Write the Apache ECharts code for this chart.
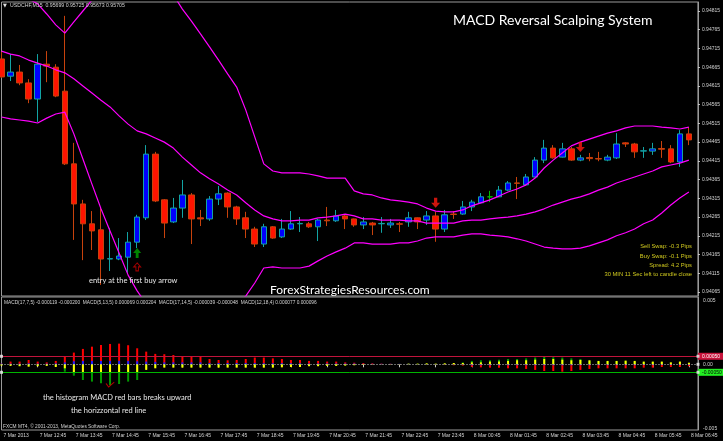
<!DOCTYPE html>
<html><head><meta charset="utf-8">
<script src="https://cdn.jsdelivr.net/npm/echarts@6/dist/echarts.min.js"></script>
<style>html,body{margin:0;padding:0;background:#000;}#c{width:723px;height:441px;}</style>
</head><body><div id="c"></div>
<script>
const times = ["7 Mar 11:45","7 Mar 12:00","7 Mar 12:15","7 Mar 12:30","7 Mar 12:45","7 Mar 13:00","7 Mar 13:15","7 Mar 13:30","7 Mar 13:45","7 Mar 14:00",
"7 Mar 14:15","7 Mar 14:30","7 Mar 14:45","7 Mar 15:00","7 Mar 15:15","7 Mar 15:30","7 Mar 15:45","7 Mar 16:00","7 Mar 16:15","7 Mar 16:30",
"7 Mar 16:45","7 Mar 17:00","7 Mar 17:15","7 Mar 17:30","7 Mar 17:45","7 Mar 18:00","7 Mar 18:15","7 Mar 18:30","7 Mar 18:45","7 Mar 19:00",
"7 Mar 19:15","7 Mar 19:30","7 Mar 19:45","7 Mar 20:00","7 Mar 20:15","7 Mar 20:30","7 Mar 20:45","7 Mar 21:00","7 Mar 21:15","7 Mar 21:30",
"7 Mar 21:45","7 Mar 22:00","7 Mar 22:15","7 Mar 22:30","7 Mar 22:45","7 Mar 23:00","7 Mar 23:15","7 Mar 23:30","7 Mar 23:45","8 Mar 00:00",
"8 Mar 00:15","8 Mar 00:30","8 Mar 00:45","8 Mar 01:00","8 Mar 01:15","8 Mar 01:30","8 Mar 01:45","8 Mar 02:00","8 Mar 02:15","8 Mar 02:30",
"8 Mar 02:45","8 Mar 03:00","8 Mar 03:15","8 Mar 03:30","8 Mar 03:45","8 Mar 04:00","8 Mar 04:15","8 Mar 04:30","8 Mar 04:45","8 Mar 05:00",
"8 Mar 05:15","8 Mar 05:30","8 Mar 05:45","8 Mar 06:00","8 Mar 06:15","8 Mar 06:30","8 Mar 06:45","8 Mar 07:00"];
const timeTickLabels = ["7 Mar 2013","7 Mar 12:45","7 Mar 13:45","7 Mar 14:45","7 Mar 15:45","7 Mar 16:45","7 Mar 17:45","7 Mar 18:45","7 Mar 19:45","7 Mar 20:45",
"7 Mar 21:45","7 Mar 22:45","7 Mar 23:45","8 Mar 00:45","8 Mar 01:45","8 Mar 02:45","8 Mar 03:45","8 Mar 04:45","8 Mar 05:45","8 Mar 06:45"];

const opens = [0.94687,0.94641,0.94652,0.94623,0.94580,0.94673,0.94665,0.94601,0.94407,0.94300,
0.94247,0.94231,0.94153,0.94153,0.94158,0.94198,0.94263,0.94433,0.94311,0.94252,
0.94289,0.94324,0.94263,0.94260,0.94313,0.94329,0.94292,0.94263,0.94233,0.94193,
0.94239,0.94212,0.94233,0.94247,0.94247,0.94239,0.94257,0.94255,0.94268,0.94260,
0.94244,0.94249,0.94247,0.94244,0.94247,0.94252,0.94263,0.94257,0.94268,0.94233,
0.94273,0.94273,0.94292,0.94303,0.94319,0.94319,0.94337,0.94356,0.94351,0.94372,
0.94417,0.94449,0.94425,0.94447,0.94417,0.94424,0.94421,0.94417,0.94423,0.94463,
0.94460,0.94441,0.94441,0.94448,0.94447,0.94412,0.94487];
const closes = [0.94639,0.94652,0.94623,0.94580,0.94673,0.94668,0.94588,0.94407,0.94300,0.94247,
0.94228,0.94153,0.94154,0.94161,0.94198,0.94265,0.94433,0.94308,0.94249,0.94289,
0.94324,0.94260,0.94260,0.94313,0.94327,0.94292,0.94260,0.94233,0.94193,0.94239,
0.94209,0.94233,0.94247,0.94248,0.94239,0.94257,0.94255,0.94268,0.94260,0.94244,
0.94252,0.94244,0.94248,0.94249,0.94246,0.94263,0.94252,0.94268,0.94233,0.94271,
0.94272,0.94292,0.94305,0.94319,0.94319,0.94337,0.94356,0.94355,0.94372,0.94417,
0.94449,0.94423,0.94447,0.94417,0.94423,0.94421,0.94420,0.94425,0.94460,0.94460,
0.94439,0.94442,0.94447,0.94446,0.94412,0.94487,0.94471];
const lows = [0.94636,0.94628,0.94617,0.94569,0.94519,0.94625,0.94585,0.94404,0.94204,0.94150,
0.94177,0.94084,0.94121,0.94150,0.94116,0.94182,0.94257,0.94305,0.94209,0.94249,
0.94263,0.94193,0.94241,0.94255,0.94297,0.94263,0.94244,0.94209,0.94185,0.94185,
0.94207,0.94209,0.94231,0.94225,0.94236,0.94201,0.94241,0.94252,0.94233,0.94239,
0.94233,0.94217,0.94223,0.94236,0.94225,0.94239,0.94233,0.94244,0.94199,0.94225,
0.94260,0.94271,0.94281,0.94302,0.94305,0.94318,0.94335,0.94313,0.94348,0.94371,
0.94409,0.94421,0.94424,0.94415,0.94414,0.94414,0.94414,0.94414,0.94420,0.94452,
0.94423,0.94423,0.94431,0.94423,0.94409,0.94399,0.94457];
const highs = [0.94706,0.94700,0.94671,0.94633,0.94700,0.94708,0.94673,0.94802,0.94463,0.94311,
0.94281,0.94289,0.94236,0.94209,0.94225,0.94271,0.94457,0.94439,0.94313,0.94316,
0.94364,0.94329,0.94284,0.94321,0.94348,0.94331,0.94295,0.94279,0.94239,0.94247,
0.94241,0.94260,0.94281,0.94265,0.94252,0.94260,0.94292,0.94284,0.94271,0.94261,
0.94265,0.94252,0.94265,0.94260,0.94252,0.94279,0.94264,0.94281,0.94279,0.94284,
0.94281,0.94308,0.94311,0.94329,0.94335,0.94348,0.94361,0.94372,0.94380,0.94425,
0.94471,0.94457,0.94463,0.94452,0.94431,0.94436,0.94439,0.94431,0.94489,0.94465,
0.94463,0.94452,0.94463,0.94468,0.94457,0.94497,0.94505];

const bbUpper = [0.94884,0.94874,0.94866,0.94847,0.94834,0.94807,0.94778,0.94756,0.94786,0.94815,
0.94844,0.94871,0.94892,0.94908,0.94924,0.94922,0.94940,0.94924,0.94892,0.94858,
0.94820,0.94788,0.94754,0.94719,0.94684,0.94647,0.94612,0.94551,0.94479,0.94407,
0.94388,0.94383,0.94383,0.94383,0.94380,0.94375,0.94369,0.94369,0.94369,0.94335,
0.94327,0.94324,0.94316,0.94311,0.94308,0.94305,0.94300,0.94289,0.94281,0.94279,
0.94279,0.94284,0.94295,0.94303,0.94311,0.94321,0.94332,0.94340,0.94351,0.94369,
0.94396,0.94417,0.94436,0.94455,0.94465,0.94473,0.94481,0.94489,0.94495,0.94503,
0.94508,0.94508,0.94508,0.94505,0.94503,0.94500,0.94505];
const bbMiddle = [0.94708,0.94700,0.94695,0.94684,0.94676,0.94668,0.94658,0.94650,0.94634,0.94615,
0.94596,0.94577,0.94559,0.94535,0.94513,0.94495,0.94487,0.94476,0.94465,0.94449,
0.94425,0.94404,0.94383,0.94367,0.94353,0.94337,0.94324,0.94303,0.94284,0.94268,
0.94260,0.94255,0.94255,0.94257,0.94257,0.94263,0.94265,0.94268,0.94273,0.94268,
0.94260,0.94260,0.94257,0.94257,0.94257,0.94255,0.94255,0.94249,0.94249,0.94249,
0.94249,0.94255,0.94257,0.94257,0.94260,0.94263,0.94265,0.94268,0.94273,0.94279,
0.94287,0.94297,0.94305,0.94313,0.94319,0.94327,0.94337,0.94345,0.94356,0.94364,
0.94372,0.94380,0.94388,0.94399,0.94404,0.94409,0.94417];
const bbLower = [0.94532,0.94527,0.94524,0.94521,0.94516,0.94529,0.94540,0.94545,0.94487,0.94420,
0.94353,0.94287,0.94228,0.94169,0.94110,0.94068,0.94033,0.94028,0.94038,0.94041,
0.94030,0.94020,0.94012,0.94014,0.94022,0.94028,0.94036,0.94054,0.94089,0.94129,
0.94132,0.94129,0.94129,0.94129,0.94134,0.94148,0.94161,0.94172,0.94182,0.94196,
0.94196,0.94193,0.94193,0.94193,0.94196,0.94196,0.94201,0.94209,0.94212,0.94212,
0.94212,0.94217,0.94220,0.94220,0.94217,0.94215,0.94212,0.94207,0.94201,0.94193,
0.94185,0.94182,0.94180,0.94180,0.94182,0.94188,0.94196,0.94204,0.94215,0.94223,
0.94233,0.94247,0.94257,0.94276,0.94297,0.94316,0.94332];

const macdRed = [0.00004,0.00017,0.00017,0.00027,0.00017,0.00012,0.00021,0.00048,0.00073,0.00096,
0.00110,0.00121,0.00127,0.00129,0.00119,0.00100,0.00079,0.00065,0.00063,0.00058,
0.00048,0.00048,0.00048,0.00033,0.00027,0.00025,0.00027,0.00033,0.00042,0.00042,
0.00037,0.00033,0.00027,0.00027,0.00021,0.00021,0.00017,0.00017,0.00012,0.00010,
0.00008,0.00006,0.00004,0.00003,0.00002,0.00001,-0.00001,-0.00002,-0.00002,-0.00004,
-0.00006,-0.00008,-0.00017,-0.00019,-0.00021,-0.00021,-0.00025,-0.00025,-0.00029,-0.00035,
-0.00042,-0.00042,-0.00046,-0.00042,-0.00035,-0.00029,-0.00025,-0.00025,-0.00025,-0.00025,
-0.00025,-0.00021,-0.00021,-0.00017,-0.00017,-0.00017,-0.00012];
const macdGreen = [-0.00005,-0.00006,-0.00008,-0.00010,-0.00008,-0.00006,-0.00012,-0.00046,-0.00071,-0.00098,
-0.00108,-0.00119,-0.00129,-0.00123,-0.00108,-0.00098,-0.00030,-0.00020,-0.00016,-0.00016,
-0.00016,-0.00016,-0.00016,-0.00016,-0.00016,-0.00016,-0.00016,-0.00016,-0.00016,-0.00016,
-0.00016,-0.00014,-0.00014,-0.00014,-0.00010,-0.00010,-0.00008,-0.00008,-0.00006,-0.00004,
-0.00002,0.00000,0.00001,0.00001,0.00002,0.00003,0.00003,0.00004,0.00003,0.00005,
0.00007,0.00012,0.00021,0.00025,0.00025,0.00029,0.00033,0.00033,0.00037,0.00042,
0.00048,0.00044,0.00042,0.00037,0.00033,0.00022,0.00019,0.00019,0.00019,0.00020,
0.00018,0.00015,0.00015,0.00015,0.00010,0.00015,0.00008];
const macdBlue = [0.00004,0.00004,0.00004,0.00006,0.00004,0.00004,0.00006,0.00012,0.00019,0.00021,
0.00021,0.00021,0.00021,0.00021,0.00021,0.00019,0.00017,0.00015,0.00012,0.00012,
0.00012,0.00012,0.00012,0.00008,0.00008,0.00008,0.00008,0.00008,0.00008,0.00007,
0.00007,0.00007,0.00007,0.00007,0.00005,0.00005,0.00005,0.00005,0.00005,0.00005,
0.00003,0.00003,0.00003,0.00003,0.00003,0.00003,0.00001,0.00001,0.00001,0.00001,
0.00001,-0.00002,-0.00006,-0.00006,-0.00006,-0.00006,-0.00006,-0.00006,-0.00006,-0.00006,
-0.00006,-0.00006,-0.00006,-0.00006,-0.00005,-0.00005,-0.00005,-0.00005,-0.00005,-0.00005,
-0.00005,-0.00004,-0.00004,-0.00004,-0.00004,-0.00004,-0.00004];
const macdYellow = [-0.00008,-0.00010,-0.00012,-0.00015,-0.00012,-0.00010,-0.00017,-0.00025,-0.00050,-0.00050,
-0.00050,-0.00050,-0.00050,-0.00050,-0.00050,-0.00050,-0.00035,-0.00025,-0.00021,-0.00021,
-0.00021,-0.00021,-0.00021,-0.00021,-0.00021,-0.00021,-0.00021,-0.00021,-0.00021,-0.00021,
-0.00021,-0.00019,-0.00017,-0.00017,-0.00012,-0.00012,-0.00010,-0.00010,-0.00008,-0.00006,
-0.00004,-0.00002,0.00001,0.00002,0.00002,0.00004,0.00004,0.00006,0.00004,0.00006,
0.00008,0.00008,0.00012,0.00012,0.00017,0.00017,0.00021,0.00025,0.00025,0.00029,
0.00033,0.00033,0.00029,0.00025,0.00027,0.00025,0.00021,0.00021,0.00021,0.00023,
0.00021,0.00017,0.00017,0.00017,0.00012,0.00017,0.00010];

const priceTicks = [0.94065,0.94115,0.94165,0.94215,0.94265,0.94315,0.94365,0.94415,0.94465,0.94515,0.94565,0.94615,0.94665,0.94715,0.94765,0.94815];
const macdTicks = [-0.004, 0, 0.004];
const macdTickLabels = ['-0.005', '0.00', '0.005'];
const macdLevels = [0.0005, -0.0005];
const macdLevelLabels = ['0.00050', '-0.00050'];

const buyArrows = [[15, 0.94169]];
const buyOutlineArrows = [[15, 0.94132]];
const sellArrows = [[48, 0.94303], [64, 0.94452]];
const macdCheck = [[12, -0.00128]];

const UP = 'path://M5,0L10,5.5L6.8,5.5L6.8,11L3.2,11L3.2,5.5L0,5.5Z';
const DOWN = 'path://M3.2,0L6.8,0L6.8,5.5L10,5.5L5,11L0,5.5L3.2,5.5Z';
const CHECK = 'path://M0,2L1.2,1.4L3,4.4L8.4,0L9,0.8L3,6Z';

const small = '#d4d4d4';
const chart = echarts.init(document.getElementById('c'), null, {renderer: 'canvas', width: 723, height: 441});
const GL = 1.5, GR = 25;
const option = {
  backgroundColor: '#000',
  animation: false,
  grid: [
    {left: GL, right: GR, top: 2, height: 294, show: true, borderColor: '#9a9a9a', borderWidth: 1, backgroundColor: '#000'},
    {left: GL, right: GR, top: 297, height: 133, show: true, borderColor: '#9a9a9a', borderWidth: 1, backgroundColor: '#000'}
  ],
  xAxis: [
    {type: 'category', gridIndex: 0, data: times, boundaryGap: false,
     axisLine: {show: false}, axisTick: {show: false}, axisLabel: {show: false}, splitLine: {show: false}},
    {type: 'category', gridIndex: 1, data: times, boundaryGap: false,
     axisLine: {show: false},
     axisTick: {show: true, interval: 3, length: 3, lineStyle: {color: '#c8c8c8'}},
     axisLabel: {interval: 3, color: small, fontSize: 5, fontFamily: 'Liberation Sans', align: 'left', margin: 3, padding: [0, 0, 0, 2],
       formatter: (v, i) => timeTickLabels[Math.round(i / 4)] || ''},
     splitLine: {show: false}}
  ],
  yAxis: [
    {type: 'value', gridIndex: 0, position: 'right', min: 0.940543, max: 0.94839,
     axisLine: {show: true, lineStyle: {color: '#9a9a9a'}},
     axisTick: {show: true, length: 2, customValues: priceTicks, lineStyle: {color: '#c8c8c8'}},
     axisLabel: {customValues: priceTicks, formatter: v => v.toFixed(5), color: small, fontSize: 5, fontFamily: 'Liberation Sans', margin: 4},
     splitLine: {show: false}},
    {type: 'value', gridIndex: 1, position: 'right', min: -0.0041, max: 0.0042,
     axisLine: {show: true, lineStyle: {color: '#9a9a9a'}},
     axisTick: {show: false},
     axisLabel: {customValues: macdTicks, color: small, fontSize: 5, fontFamily: 'Liberation Sans', margin: 5,
       formatter: v => { const k = macdTicks.findIndex(t => Math.abs(t - v) < 1e-9); return k >= 0 ? macdTickLabels[k] : ''; }},
     splitLine: {show: false}}
  ],
  series: [
    {type: 'candlestick', xAxisIndex: 0, yAxisIndex: 0, barWidth: 6,
     data: opens.map((o, i) => [o, closes[i], lows[i], highs[i]]),
     itemStyle: {color: '#0000ff', color0: '#ff1400', borderColor: '#12a4a4', borderColor0: '#c8420c', borderColorDoji: '#00c000', borderWidth: 1}},
    {type: 'line', xAxisIndex: 0, yAxisIndex: 0, data: bbUpper, symbol: 'none', lineStyle: {color: '#ff00ff', width: 1.2}},
    {type: 'line', xAxisIndex: 0, yAxisIndex: 0, data: bbMiddle, symbol: 'none', lineStyle: {color: '#ff00ff', width: 1.2}},
    {type: 'line', xAxisIndex: 0, yAxisIndex: 0, data: bbLower, symbol: 'none', lineStyle: {color: '#ff00ff', width: 1.2}},
    {type: 'scatter', xAxisIndex: 0, yAxisIndex: 0, data: buyArrows, symbol: UP, symbolSize: [8, 10], itemStyle: {color: '#00a400'}, z: 5},
    {type: 'scatter', xAxisIndex: 0, yAxisIndex: 0, data: buyOutlineArrows, symbol: UP, symbolSize: [7, 8], itemStyle: {color: '#000', borderColor: '#c80000', borderWidth: 1}, z: 5},
    {type: 'scatter', xAxisIndex: 0, yAxisIndex: 0, data: sellArrows, symbol: DOWN, symbolSize: [9, 10], itemStyle: {color: '#ff1a10'}, z: 5},
    {type: 'bar', xAxisIndex: 1, yAxisIndex: 1, data: macdRed, barWidth: 2, barGap: '-100%', itemStyle: {color: '#ff0000'},
     markLine: {silent: true, symbol: 'none', animation: false, precision: 6,
       data: [
         {yAxis: macdLevels[0], lineStyle: {color: '#c0143c', type: 'solid', width: 1},
          label: {show: true, position: 'end', distance: 0, formatter: macdLevelLabels[0], color: '#fff', backgroundColor: '#c8143c', fontSize: 5, fontFamily: 'Liberation Sans', padding: [1, 3, 1, 4]}},
         {yAxis: macdLevels[1], lineStyle: {color: '#00b400', type: 'solid', width: 1},
          label: {show: true, position: 'end', distance: 0, formatter: macdLevelLabels[1], color: '#000', backgroundColor: '#22ee22', fontSize: 5, fontFamily: 'Liberation Sans', padding: [1, 3, 1, 4]}},
         {yAxis: 0, lineStyle: {color: '#d0d0d0', type: [1, 2], width: 1}, label: {show: false}}
       ]}},
    {type: 'bar', xAxisIndex: 1, yAxisIndex: 1, data: macdGreen, barWidth: 2, barGap: '-100%', itemStyle: {color: '#009a00'}},
    {type: 'bar', xAxisIndex: 1, yAxisIndex: 1, data: macdBlue, barWidth: 2, barGap: '-100%', itemStyle: {color: '#1e1eff'}},
    {type: 'bar', xAxisIndex: 1, yAxisIndex: 1, data: macdYellow, barWidth: 2, barGap: '-100%', itemStyle: {color: '#ffff00'}},
    {type: 'scatter', xAxisIndex: 1, yAxisIndex: 1, data: [[0, macdLevels[0]], [0, macdLevels[1]], [77, macdLevels[0]], [77, macdLevels[1]], [77, 0]],
     symbol: 'rect', symbolSize: 3, itemStyle: {color: '#f0f0f0'}, clip: false, z: 6},
    {type: 'scatter', xAxisIndex: 1, yAxisIndex: 1, data: macdCheck, symbol: CHECK, symbolSize: [9, 6], itemStyle: {color: '#e00000'}, z: 6}
  ],
  graphic: {elements: [
    {type: 'text', x: 3, y: 6, z: 100, style: {text: '▼', fill: '#e0e0e0', font: '5px "DejaVu Sans"', verticalAlign: 'middle'}},
    {type: 'text', x: 10, y: 6, z: 100, style: {text: 'USDCHF,M15  0.95699 0.95725 0.95673 0.95705', fill: small, font: '5.2px "Liberation Sans"', verticalAlign: 'middle'}},
    {type: 'text', x: 453, y: 20, z: 100, style: {text: 'MACD Reversal Scalping System', fill: '#ffffff', font: '14px Lato', verticalAlign: 'middle'}},
    {type: 'text', x: 270, y: 290, z: 100, style: {text: 'ForexStrategiesResources.com', fill: '#ffffff', font: '12px Lato', verticalAlign: 'middle'}},
    {type: 'text', x: 89, y: 281, z: 100, style: {text: 'entry at the first buy arrow', fill: '#e8e8e8', font: '7.5px Lato', verticalAlign: 'middle'}},
    {type: 'text', x: 692, y: 246, z: 100, style: {text: 'Sell Swap: -0.3 Pips', fill: '#cfc81e', font: '5.8px "Liberation Sans"', align: 'right', verticalAlign: 'middle'}},
    {type: 'text', x: 692, y: 256, z: 100, style: {text: 'Buy Swap: -0.1 Pips', fill: '#cfc81e', font: '5.8px "Liberation Sans"', align: 'right', verticalAlign: 'middle'}},
    {type: 'text', x: 692, y: 265, z: 100, style: {text: 'Spread: 4.2 Pips', fill: '#cfc81e', font: '5.8px "Liberation Sans"', align: 'right', verticalAlign: 'middle'}},
    {type: 'text', x: 692, y: 274.5, z: 100, style: {text: '30 MIN 11 Sec left to candle close', fill: '#cfc81e', font: '5.8px "Liberation Sans"', align: 'right', verticalAlign: 'middle'}},
    {type: 'text', x: 4, y: 302.5, z: 100, style: {text: 'MACD(17,7,5) -0.000119 -0.000200  MACD(5,13,5) 0.000069 0.000204  MACD(17,14,5) -0.000039 -0.000048  MACD(12,18,4) 0.000077 0.000096', fill: small, font: '4.8px "Liberation Sans"', verticalAlign: 'middle'}},
    {type: 'text', x: 43, y: 398, z: 100, style: {text: 'the histogram MACD red bars breaks upward', fill: '#e8e8e8', font: '7.5px Lato', verticalAlign: 'middle'}},
    {type: 'text', x: 71, y: 411, z: 100, style: {text: 'the horizzontal red line', fill: '#e8e8e8', font: '7.5px Lato', verticalAlign: 'middle'}},
    {type: 'text', x: 3, y: 427, z: 100, style: {text: 'FXCM MT4, © 2001-2013, MetaQuotes Software Corp.', fill: small, font: '4.8px "Liberation Sans"', verticalAlign: 'middle'}}
  ]}
};
chart.setOption(option);
</script>
</body></html>
